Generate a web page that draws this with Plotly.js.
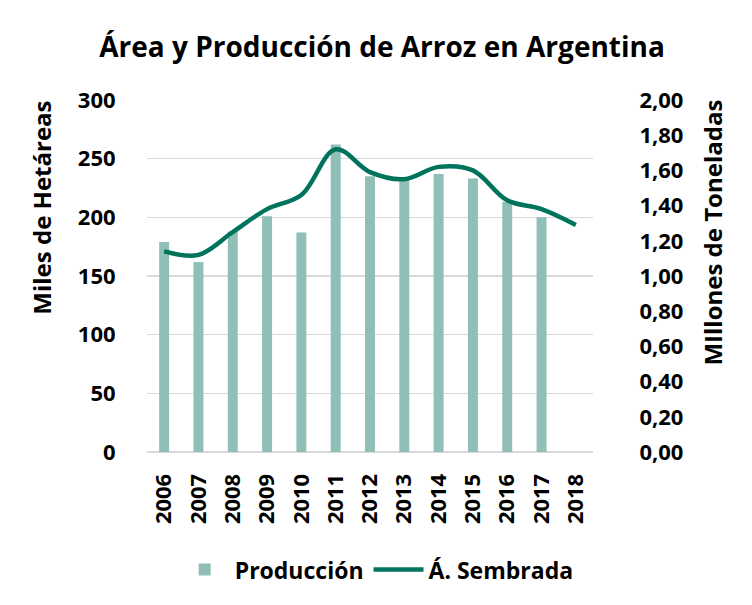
<!DOCTYPE html>
<html>
<head>
<meta charset="utf-8">
<script src="https://cdn.plot.ly/plotly-3.0.1.min.js"></script>
<style>
  html, body { margin: 0; padding: 0; background: #fff; }
  #chart { width: 752px; height: 605px; }
</style>
</head>
<body>
<div id="chart"></div>
<script>
// Años (categorías del eje X)
const years = ['2006', '2007', '2008', '2009', '2010', '2011', '2012',
               '2013', '2014', '2015', '2016', '2017', '2018'];

// Producción (barras, eje izquierdo) - 2018 sin dato
const produccion = [179, 162, 188, 201, 187, 262, 235, 232, 237, 233, 213, 200, null];

// Área sembrada (línea suavizada, eje derecho)
const sembrada = [1.14, 1.12, 1.25, 1.38, 1.46, 1.72, 1.59, 1.55, 1.62, 1.60, 1.43, 1.38, 1.29];

const FONT = '"Open Sans", Lato, "Liberation Sans", sans-serif';
const BAR_COLOR = '#8FBFB7';
const LINE_COLOR = '#00735C';

const traces = [
  {
    type: 'bar',
    name: 'Producción',
    x: years,
    y: produccion,
    width: 0.29,
    marker: { color: BAR_COLOR },
    yaxis: 'y'
  },
  {
    type: 'scatter',
    mode: 'lines',
    name: 'Á. Sembrada',
    x: years,
    y: sembrada,
    line: { color: LINE_COLOR, width: 4.5, shape: 'spline', smoothing: 1 },
    yaxis: 'y2'
  }
];

const tickFont = { family: FONT, size: 22, weight: 'bold' };

const layout = {
  width: 752,
  height: 605,
  paper_bgcolor: '#fff',
  plot_bgcolor: '#fff',
  separators: ',.',
  font: { family: FONT, color: '#000', size: 22 },
  margin: { l: 147, r: 159, t: 100, b: 153 },
  title: {
    text: '<b>Área y Producción de Arroz en Argentina</b>',
    font: { family: FONT, size: 28, color: '#000' },
    x: 0.508, xanchor: 'center',
    y: 0.922, yanchor: 'middle', yref: 'container'
  },
  xaxis: {
    type: 'category',
    tickangle: -90,
    ticks: 'outside', ticklen: 12, tickcolor: 'rgba(0,0,0,0)',
    tickfont: tickFont,
    showgrid: false,
    showline: false,
    zeroline: false
  },
  yaxis: {
    range: [0, 300],
    dtick: 50,
    showgrid: true,
    gridcolor: '#d9d9d9',
    gridwidth: 1.5,
    zeroline: true,
    zerolinecolor: '#d9d9d9',
    zerolinewidth: 1.5,
    ticks: 'outside', ticklen: 26, tickcolor: 'rgba(0,0,0,0)',
    tickfont: tickFont
  },
  yaxis2: {
    overlaying: 'y',
    side: 'right',
    range: [0, 2],
    dtick: 0.2,
    tickformat: '.2f',
    showgrid: false,
    zeroline: false,
    ticks: 'outside', ticklen: 41, tickcolor: 'rgba(0,0,0,0)',
    tickfont: tickFont
  },
  // Títulos de ejes como anotaciones (en la referencia no están centrados)
  annotations: [
    {
      text: '<b>Miles de Hetáreas</b>',
      xref: 'paper', yref: 'paper',
      x: -0.237, y: 0.695,
      xanchor: 'center', yanchor: 'middle',
      textangle: -90, showarrow: false,
      font: { family: FONT, size: 24 }
    },
    {
      text: '<b>MIllones de Toneladas</b>',
      xref: 'paper', yref: 'paper',
      x: 1.268, y: 0.622,
      xanchor: 'center', yanchor: 'middle',
      textangle: -90, showarrow: false,
      font: { family: FONT, size: 24 }
    }
  ],
  showlegend: true,
  legend: {
    orientation: 'h',
    x: 0.515, xanchor: 'center',
    y: -0.334, yanchor: 'middle',
    font: { family: FONT, size: 23, weight: 'bold' },
    itemwidth: 50,
    traceorder: 'normal'
  },
  bargap: 0.7
};

Plotly.newPlot('chart', traces, layout, { displayModeBar: false, staticPlot: true });
</script>
</body>
</html>
